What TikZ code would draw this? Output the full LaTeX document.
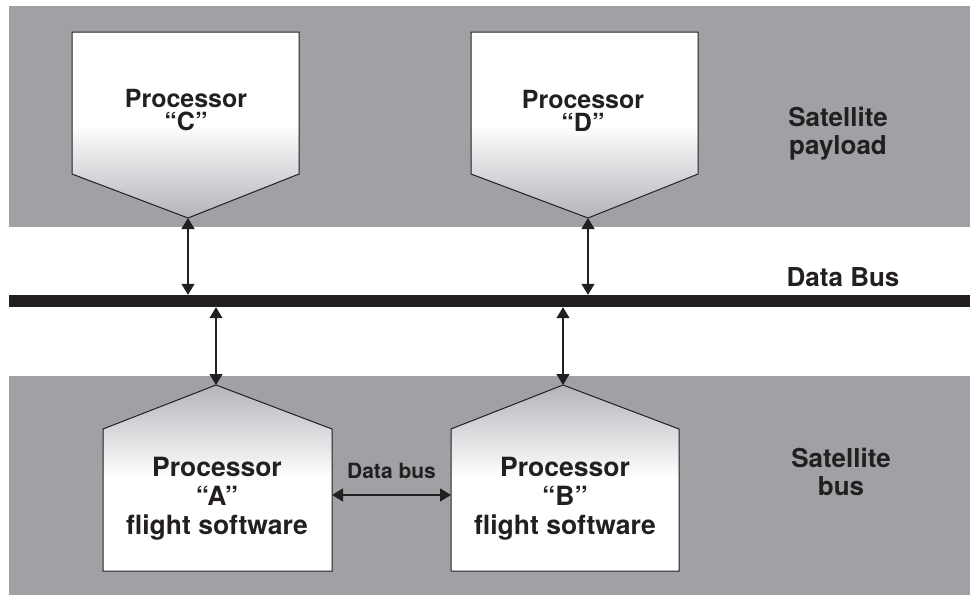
\documentclass[tikz,border=0pt]{standalone}
\usepackage{fontspec}
\setmainfont{TeX Gyre Heros}
\usetikzlibrary{arrows.meta,positioning,calc}
\definecolor{bandgray}{RGB}{160,161,165}
\definecolor{shadegray}{RGB}{180,181,186}
\definecolor{ink}{RGB}{35,31,32}

\begin{document}
\begin{tikzpicture}[
  x=1pt, y=-1pt,
  font=\bfseries,
  >={Triangle[length=11pt, width=13pt]},
  band/.style={fill=bandgray},
  cpu/.style={draw=ink, line width=1pt},
  pointdown/.style={cpu, top color=white, bottom color=shadegray, middle color=white},
  pointup/.style={cpu, top color=shadegray, bottom color=white, middle color=white},
  toptxt/.style={align=center, inner sep=0pt, text=ink, font=\fontsize{25}{23}\selectfont\bfseries},
  bottxt/.style={align=center, inner sep=0pt, text=ink, font=\fontsize{26.5}{29}\selectfont\bfseries},
  side/.style={align=center, inner sep=0pt, text=ink, font=\fontsize{26}{28}\selectfont\bfseries},
  arrow/.style={<->, draw=ink, line width=1.3pt}
]
  \useasboundingbox (0,0) rectangle (970,595);
  \fill[band] (9,6) rectangle (970,227);
  \fill[band] (9,376) rectangle (970,595);

  \node[fill=ink, inner sep=0pt, minimum width=961pt, minimum height=12pt] (bus) at (489.5,301) {};

  \draw[pointdown] (72,32) -- (299,32) -- (299,174) -- (188,218) coordinate (tipC) -- (72,174) -- cycle;
  \draw[pointdown] (471,32) -- (698,32) -- (698,174) -- (588,218) coordinate (tipD) -- (471,174) -- cycle;
  \draw[pointup] (103,571) -- (103,429) -- (216,385) coordinate (tipA) -- (332,429) -- (332,571) -- cycle;
  \draw[pointup] (451,571) -- (451,429) -- (563,385) coordinate (tipB) -- (679,429) -- (679,571) -- cycle;

  \node[toptxt] (procC) at (186,110) {Processor\\“C”};
  \node[toptxt] (procD) at (583,111) {Processor\\“D”};
  \node[bottxt] (procA) at (217,499) {Processor\\“A”\\flight software};
  \node[bottxt] (procB) at (565,499) {Processor\\“B”\\flight software};

  \node[side] (payload) at (838,134) {Satellite\\payload};
  \node[side] (satbus) at (841,471.5) {Satellite\\bus};
  \node[side, anchor=base] (buslabel) at (843,286) {Data Bus};

  \coordinate (linkA) at (332,495);
  \coordinate (linkB) at (451,495);

  \draw[arrow] (tipC) -- (tipC |- bus.north);
  \draw[arrow] (tipD) -- (tipD |- bus.north);
  \draw[arrow] (bus.south -| tipA) -- (tipA);
  \draw[arrow] (bus.south -| tipB) -- (tipB);
  \draw[arrow] (linkA) -- node[midway, above=16pt, inner sep=0pt, text=ink, font=\fontsize{21}{24}\selectfont\bfseries] {Data bus} (linkB);
\end{tikzpicture}
\end{document}
